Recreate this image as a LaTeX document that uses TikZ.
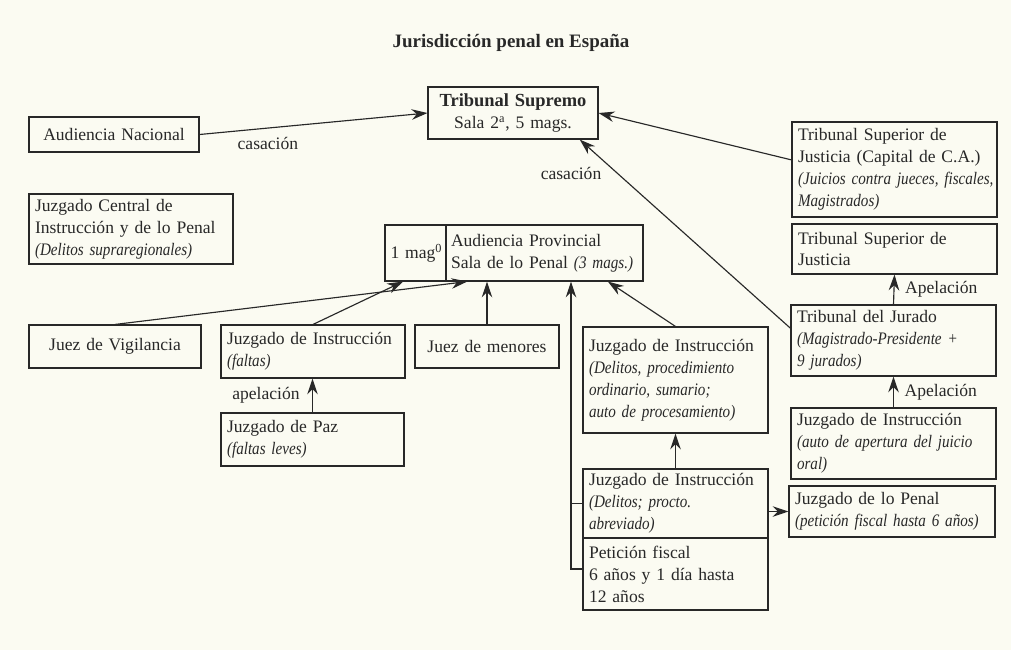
\documentclass[tikz,border=0pt]{standalone}
\usepackage{fontspec}
\setmainfont{Liberation Serif}[ItalicFeatures={FakeStretch=0.86}]
\usetikzlibrary{arrows.meta,calc}
\definecolor{papel}{RGB}{251,251,242}
\definecolor{tinta}{RGB}{40,40,40}
\tikzset{
  caja/.style={draw, align=left, inner xsep=0.12cm, inner ysep=1pt, text width=#1},
  rotulo/.style={inner sep=1pt},
}
\begin{document}
\begin{tikzpicture}[x=0.02cm, y=-0.02cm, color=tinta, line width=0.65pt,
  >={Stealth[length=9pt,width=6pt]}, font=\fontsize{10}{12.5}\selectfont]
\useasboundingbox (0,0) rectangle (1011,650);
\fill[papel] (0,0) rectangle (1011,650);

\node[font=\fontsize{10.8}{13}\selectfont\bfseries] (titulo) at (511,43) {Jurisdicción penal en España};

% columna izquierda y centro
\node[caja=3.16cm, align=center, minimum height=1.04cm] (ts) at (513,113) {{\fontsize{10.5}{12.5}\selectfont\bfseries Tribunal Supremo}\\Sala 2\textsuperscript{a}, 5 mags.};
\node[caja=3.16cm, align=center, minimum height=0.7cm] (an) at (114,134.5) {Audiencia Nacional};
\node[caja=3.84cm, minimum height=1.4cm] (jc) at (131,229) {Juzgado Central de\\Instrucción y de lo Penal\\\textit{(Delitos supraregionales)}};
\node[caja=1.0cm, align=center, inner xsep=0.11cm, minimum height=1.12cm] (mag) at (415.5,253) {1~mag\textsuperscript{\scriptsize 0}};
\node[caja=3.74cm, inner xsep=0.1cm, minimum height=1.12cm] (apr) at (544.5,253) {Audiencia Provincial\\Sala de lo Penal \textit{(3 mags.)}};
\node[caja=3.2cm, align=center, minimum height=0.86cm] (jv) at (115,346.5) {Juez de Vigilancia};
\node[caja=3.44cm, minimum height=1.06cm] (faltas) at (313,351.5) {Juzgado de Instrucción\\\textit{(faltas)}};
\node[caja=2.64cm, align=center, minimum height=0.86cm] (menores) at (487,346.5) {Juez de menores};
\node[caja=3.42cm, minimum height=1.06cm] (paz) at (312.5,439.5) {Juzgado de Paz\\\textit{(faltas leves)}};
\node[caja=3.46cm, minimum height=2.12cm] (delitos) at (675.5,380) {Juzgado de Instrucción\\\textit{(Delitos, procedimiento}\\\textit{ordinario, sumario;}\\\textit{auto de procesamiento)}};
\node[caja=3.46cm, minimum height=1.38cm] (abrev) at (675.5,503.5) {Juzgado de Instrucción\\\textit{(Delitos; procto.}\\\textit{abreviado)}};
\node[caja=3.46cm, minimum height=1.44cm] (fiscal) at (675.5,574) {Petición fiscal\\6 años y 1 día hasta\\12 años};

% columna derecha
\node[caja=3.86cm, minimum height=1.9cm] (tsj1) at (894.5,169.5) {Tribunal Superior de\\Justicia (Capital de C.A.)\\\mbox{\textit{(Juicios contra jueces, fiscales,}}\\\textit{Magistrados)}};
\node[caja=3.86cm, minimum height=1.0cm] (tsj2) at (894.5,249) {Tribunal Superior de\\Justicia};
\node[caja=3.86cm, minimum height=1.42cm] (tj) at (893.5,340.5) {Tribunal del Jurado\\\textit{(Magistrado-Presidente +}\\\textit{9 jurados)}};
\node[caja=3.86cm, minimum height=1.42cm] (apertura) at (893.5,443.5) {Juzgado de Instrucción\\\textit{(auto de apertura del juicio}\\\textit{oral)}};
\node[caja=3.88cm, minimum height=1.02cm] (jpenal) at (892,511.5) {Juzgado de lo Penal\\\textit{(petición fiscal hasta 6 años)}};

\coordinate (eje) at (571,400);

\path[draw,->] (an.east) -- node[rotulo, pos=0.3, below=4pt] {casación} (ts.west);
\path[draw,->] ($(tsj1.north west)!0.4!(tsj1.south west)$) -- (ts.east);
\path[draw,->] ($(tj.north west)!0.33!(tj.south west)$) -- node[rotulo, pos=0.82, left=8pt] {casación} ($(ts.south west)!0.89!(ts.south east)$);
\path[draw,->] (jv.north) -- ($(apr.south west)!0.11!(apr.south east)$);
\path[draw,->] (faltas.north) -- ($(mag.south west)!0.3!(mag.south east)$);
\path[draw,->] (menores.north) -- (menores.north |- apr.south);
\path[draw,->] (delitos.north) -- ($(apr.south west)!0.82!(apr.south east)$);
\path[draw,->] (paz.north) -- node[rotulo, left=6pt] {apelación} (paz.north |- faltas.south);
\path[draw,->] (abrev.north) -- (abrev.north |- delitos.south);
\path[draw,->] (abrev.east |- jpenal.west) -- (jpenal.west);
\path[draw,->] ($(fiscal.west)+(0,-5)$) -- ($(fiscal.west -| eje)+(0,-5)$) -- (eje |- apr.south);
\path[draw] (abrev.west) -- (abrev.west -| eje);
\path[draw,->] (tj.north) -- node[rotulo, right=5pt] {Apelación} (tsj2.south);
\path[draw,->] (apertura.north) -- node[rotulo, right=5pt] {Apelación} (tj.south);
\end{tikzpicture}
\end{document}
